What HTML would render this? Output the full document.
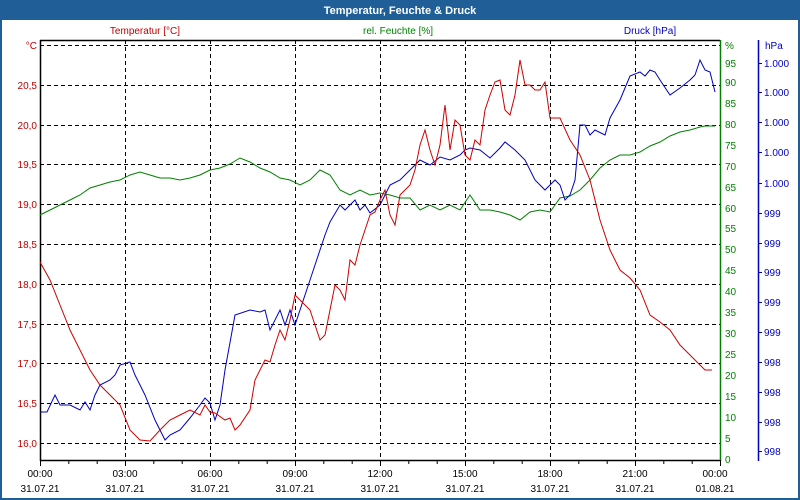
<!DOCTYPE html>
<html><head><meta charset="utf-8"><style>
body{margin:0;width:800px;height:500px;overflow:hidden;background:#fff}
svg{display:block;font-family:"Liberation Sans",sans-serif}
</style></head><body>
<svg width="800" height="500" viewBox="0 0 800 500">
<rect x="0" y="0" width="800" height="500" fill="#1f5e96"/>
<rect x="2" y="20" width="796" height="478" fill="#fff"/>
<text x="400" y="14" fill="#fff" font-size="11" font-weight="bold" text-anchor="middle">Temperatur, Feuchte &amp; Druck</text>
<g font-size="10">
<text x="145" y="34" fill="#c00000" text-anchor="middle">Temperatur [°C]</text>
<text x="398" y="34" fill="#008000" text-anchor="middle">rel. Feuchte [%]</text>
<text x="650" y="34" fill="#0000c0" text-anchor="middle">Druck [hPa]</text>
</g>
<g stroke="#000" stroke-dasharray="4,3" stroke-width="1">
<path d="M40 45.5H720M40 85.5H720M40 125.5H720M40 164.5H720M40 204.5H720M40 244.5H720M40 284.5H720M40 324.5H720M40 363.5H720M40 403.5H720M40 443.5H720"/>
<path d="M125.5 40V460M210.5 40V460M295.5 40V460M380.5 40V460M465.5 40V460M550.5 40V460M635.5 40V460"/>
</g>
<g stroke="#000" stroke-width="1.5" fill="none">
<path d="M40.5 40V461M40 460.5H720M40 40.5H720"/>
</g>
<path d="M720.5 40V461" stroke="#008000" stroke-width="1.5"/>
<path d="M758.5 40V461" stroke="#0000c0" stroke-width="1.5"/>
<g stroke="#000">
<path d="M40.5 460V466M68.8 460V464M97.2 460V464M125.5 460V466M153.8 460V464M182.2 460V464M210.5 460V466M238.8 460V464M267.2 460V464M295.5 460V466M323.8 460V464M352.2 460V464M380.5 460V466M408.8 460V464M437.2 460V464M465.5 460V466M493.8 460V464M522.2 460V464M550.5 460V466M578.8 460V464M607.2 460V464M635.5 460V466M663.8 460V464M692.2 460V464M720.5 460V466"/>
</g>
<g font-size="10" fill="#c00000" text-anchor="end">
<text x="37" y="49">°C</text><text x="37" y="89">20,5</text><text x="37" y="129">20,0</text><text x="37" y="168">19,5</text><text x="37" y="208">19,0</text><text x="37" y="248">18,5</text><text x="37" y="288">18,0</text><text x="37" y="328">17,5</text><text x="37" y="367">17,0</text><text x="37" y="407">16,5</text><text x="37" y="447">16,0</text>
</g>
<g font-size="10" fill="#008000">
<text x="725" y="49">%</text><text x="725" y="67">95</text><text x="725" y="86">90</text><text x="725" y="107">85</text><text x="725" y="128">80</text><text x="725" y="149">75</text><text x="725" y="170">70</text><text x="725" y="191">65</text><text x="725" y="212">60</text><text x="725" y="232">55</text><text x="725" y="253">50</text><text x="725" y="274">45</text><text x="725" y="295">40</text><text x="725" y="316">35</text><text x="725" y="337">30</text><text x="725" y="358">25</text><text x="725" y="379">20</text><text x="725" y="400">15</text><text x="725" y="421">10</text><text x="725" y="442">5</text><text x="725" y="463">0</text>
</g>
<g stroke="#0000c0"><path d="M758 63.5H762M758 92.5H762M758 122.5H762M758 152.5H762M758 183.5H762M758 213.5H762M758 243.5H762M758 272.5H762M758 302.5H762M758 332.5H762M758 362.5H762M758 392.5H762M758 422.5H762M758 451.5H762"/></g>
<g font-size="10" fill="#0000c0">
<text x="765" y="49">hPa</text><text x="764" y="67">1.000</text><text x="764" y="96">1.000</text><text x="764" y="126">1.000</text><text x="764" y="156">1.000</text><text x="764" y="187">1.000</text><text x="764" y="217">999</text><text x="764" y="247">999</text><text x="764" y="276">999</text><text x="764" y="306">999</text><text x="764" y="336">999</text><text x="764" y="366">998</text><text x="764" y="396">998</text><text x="764" y="426">998</text><text x="764" y="455">998</text>
</g>
<g font-size="10" fill="#000" text-anchor="middle">
<text x="40" y="477">00:00</text><text x="125" y="477">03:00</text><text x="210" y="477">06:00</text><text x="295" y="477">09:00</text><text x="380" y="477">12:00</text><text x="465" y="477">15:00</text><text x="550" y="477">18:00</text><text x="635" y="477">21:00</text><text x="715" y="477">00:00</text>
<text x="40" y="492">31.07.21</text><text x="125" y="492">31.07.21</text><text x="210" y="492">31.07.21</text><text x="295" y="492">31.07.21</text><text x="380" y="492">31.07.21</text><text x="465" y="492">31.07.21</text><text x="550" y="492">31.07.21</text><text x="635" y="492">31.07.21</text><text x="715" y="492">01.08.21</text>
</g>
<polyline fill="none" stroke="#008000" stroke-width="1" points="40,215 50,210 60,205 70,200 80,195 90,188 100,185 110,182 120,180 130,175 140,172 150,175 160,178 170,178 180,180 190,178 200,175 210,170 220,168 230,164 240,158 250,162 260,168 270,172 280,178 290,180 300,185 310,180 320,170 330,175 340,190 350,195 360,190 370,195 380,193 390,195 400,198 410,198 420,210 430,205 440,210 450,205 460,210 470,195 480,210 490,210 500,212 510,215 520,220 530,212 540,210 550,212 560,198 570,196 580,190 590,180 600,168 610,160 620,155 630,155 640,152 650,146 660,142 670,136 680,132 690,130 700,127 705,126 715,126"/>
<polyline fill="none" stroke="#0000c0" stroke-width="1" points="40,412 47,412 55,395 60,405 70,405 80,410 85,402 90,410 95,395 100,385 110,380 115,375 120,365 130,362 135,375 145,395 155,420 165,440 170,435 180,430 190,418 200,405 205,398 210,403 212,410 215,420 220,405 225,370 235,315 250,310 260,312 265,310 270,330 280,310 285,325 290,310 295,325 300,310 310,280 320,250 325,235 330,222 340,205 345,210 355,200 360,210 365,205 370,213 380,205 385,195 390,185 400,180 410,170 420,160 430,165 440,157 450,160 460,155 465,150 470,148 480,150 490,158 500,148 505,142 515,150 525,160 535,180 545,190 555,180 560,185 565,200 570,195 575,180 580,125 585,125 590,135 595,130 605,135 610,118 620,100 630,76 640,72 645,76 650,70 655,72 660,80 670,95 680,88 690,80 695,75 700,60 705,70 710,72 715,92"/>
<polyline fill="none" stroke="#d00000" stroke-width="1" points="40,262 50,280 60,305 70,330 80,350 90,370 100,385 110,395 120,405 130,430 140,440 150,441 160,430 170,420 180,415 190,410 200,415 205,405 210,412 215,413 225,420 230,418 235,430 240,425 250,410 255,380 265,360 270,362 275,345 280,330 285,340 290,320 295,295 300,300 310,310 320,340 325,335 330,310 335,285 340,290 345,300 350,260 355,265 360,245 365,230 370,215 375,212 380,200 385,190 390,215 395,225 400,195 405,190 410,185 415,170 420,145 425,130 430,150 435,165 440,145 445,105 450,150 455,120 460,125 465,155 470,160 475,140 480,145 485,110 490,95 495,82 500,80 505,110 510,115 515,95 520,60 525,85 530,85 535,90 540,90 545,82 550,118 560,118 570,140 580,155 590,180 600,220 610,250 620,270 630,278 640,290 650,315 660,322 670,330 680,345 690,355 700,365 705,370 712,370"/>
</svg>
</body></html>
